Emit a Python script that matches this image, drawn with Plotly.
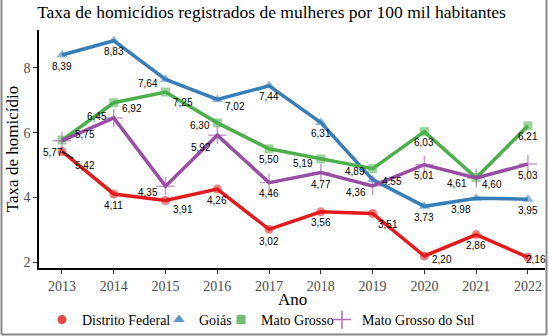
import plotly.graph_objects as go

years = [2013, 2014, 2015, 2016, 2017, 2018, 2019, 2020, 2021, 2022]
df_vals = [5.42, 4.11, 3.91, 4.26, 3.02, 3.56, 3.51, 2.20, 2.86, 2.16]
go_vals = [8.39, 8.83, 7.64, 7.02, 7.44, 6.31, 4.55, 3.73, 3.98, 3.95]
mt_vals = [5.77, 6.92, 7.25, 6.30, 5.50, 5.19, 4.89, 6.03, 4.61, 6.21]
ms_vals = [5.75, 6.45, 4.35, 5.92, 4.46, 4.77, 4.36, 5.01, 4.60, 5.03]
names = ["Distrito Federal", "Goiás", "Mato Grosso", "Mato Grosso do Sul"]
y_ticks = [2, 4, 6, 8]

series = [df_vals, go_vals, mt_vals, ms_vals]
colors = ["#E41A1C", "#377EB8", "#4DAF4A", "#984EA3"]
symbols = ["circle", "triangle-up", "square", "cross-thin"]
msizes = [9, 10, 9, 13]
legend_ids = ["legend", "legend2", "legend3", "legend4"]
legend_text_x = [82, 199, 261, 362]

# label pixel offsets (dx, dy downwards) per series, per year
offsets = [
    [(23, 14), (0, 12), (17, 9), (0, 11), (0, 12), (0, 11), (15, 11), (18, 4), (0, 11), (8, 2)],
    [(0, 11), (0, 11), (-18, 4), (18, 7), (0, 11), (0, 11), (19, 2), (0, 11), (-15, 11), (0, 11)],
    [(-9, 12), (18, 6), (17, 10), (-17, 3), (0, 11), (-18, 5), (-18, 3), (0, 11), (-19, 6), (0, 11)],
    [(23, -6), (-17, -1), (-18, 6), (-16, 12), (0, 11), (0, 12), (-17, 7), (0, 11), (16, 6), (0, 11)],
]

serif = "Liberation Serif"
sans = "Liberation Sans"

fig = go.Figure()
for vals, name, col, sym, ms in zip(series, names, colors, symbols, msizes):
    mk = dict(symbol=sym, size=ms, color=col, opacity=0.55)
    if sym == "cross-thin":
        mk["line"] = dict(color=col, width=1.5)
    fig.add_trace(go.Scatter(x=years, y=vals, mode="lines+markers", name=name,
                             line=dict(color=col, width=3.5), marker=mk,
                             showlegend=False))
for name, col, sym, ms, lid in zip(names, colors, symbols, msizes, legend_ids):
    mk = dict(symbol=sym, size=ms, color=col, opacity=0.8)
    if sym == "cross-thin":
        mk["line"] = dict(color=col, width=1.5)
    fig.add_trace(go.Scatter(x=[None], y=[None], mode="markers", name=name,
                             marker=mk, showlegend=True, legend=lid))

for si, vals in enumerate(series):
    for i, (yr, v) in enumerate(zip(years, vals)):
        dx, dy = offsets[si][i]
        txt = f"{v:.2f}".replace(".", ",")
        if si == 0 and i == 0:
            fig.add_annotation(x=yr, y=v, text=txt, showarrow=True, arrowhead=0,
                               arrowwidth=1.3, arrowcolor="black", ax=dx, ay=dy,
                               font=dict(family=sans, size=10, color="black"))
        else:
            fig.add_annotation(x=yr, y=v, text=txt, showarrow=False,
                               xshift=dx, yshift=-dy,
                               font=dict(family=sans, size=10, color="black"))

# border
L, R, T, B = 39, 4, 30, 68
W, H = 549, 336
pw, ph = W - L - R, H - T - B
def px(x):
    return (x - L) / pw
def py(y):
    return (H - B - y) / ph
for (x0, y0, x1, y1) in [(1.5, -2, 1.5, 334.5), (546.5, -2, 546.5, 334.5), (1.5, 334.5, 546.5, 334.5)]:
    fig.add_shape(type="line", xref="paper", yref="paper", x0=px(x0), y0=py(y0),
                  x1=px(x1), y1=py(y1), line=dict(color="#888888", width=2))

# x-axis title
fig.add_annotation(text="Ano", xref="paper", yref="paper", x=px(292), y=py(299),
                   xanchor="center", yanchor="middle", showarrow=False,
                   font=dict(family=serif, size=17, color="black"))

legend_style = {}
for lid, tx in zip(legend_ids, legend_text_x):
    legend_style[lid] = dict(orientation="h", x=px(tx - 40), xref="paper", xanchor="left",
                             y=py(320), yref="paper", yanchor="middle",
                             font=dict(family=serif, size=14, color="black"),
                             itemwidth=30, bgcolor="rgba(0,0,0,0)")

fig.update_layout(
    width=W, height=H, margin=dict(l=L, r=R, t=T, b=B, autoexpand=False),
    paper_bgcolor="white", plot_bgcolor="white",
    title=dict(text="Taxa de homicídios registrados de mulheres por 100 mil habitantes",
               x=271.5 / W, xref="container", xanchor="center",
               y=1 - 12 / H, yref="container", yanchor="middle",
               font=dict(family=serif, size=17.5, color="black")),
    xaxis=dict(range=[2012.556, 2022.33], tickvals=years, showgrid=False, zeroline=False,
               showline=True, linecolor="black", linewidth=1.5, ticks="outside",
               ticklen=4, tickcolor="#333333", ticklabelstandoff=0,
               tickfont=dict(family=serif, size=14, color="#4d4d4d")),
    yaxis=dict(range=[1.83, 9.16], tickvals=y_ticks, showgrid=False, zeroline=False,
               showline=True, linecolor="black", linewidth=1.5, ticks="outside",
               ticklen=4, tickcolor="#333333",
               tickfont=dict(family=serif, size=14, color="#4d4d4d"),
               title=dict(text="Taxa de homicídio", font=dict(family=serif, size=17, color="black"),
                          standoff=1)),
    **legend_style,
)

fig.write_html("out.html")
